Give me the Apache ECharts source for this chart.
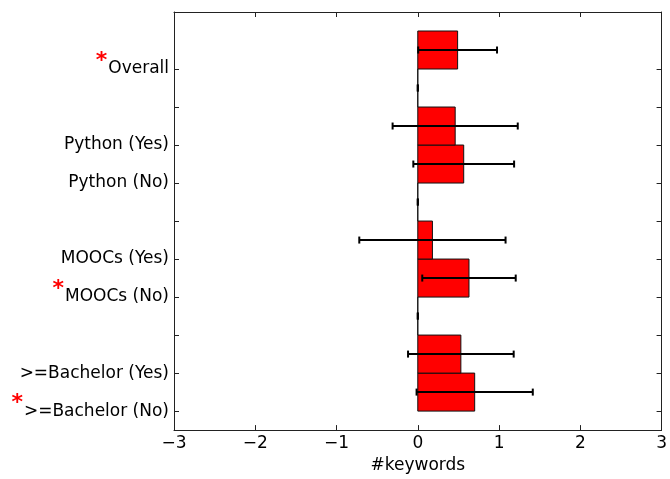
<!DOCTYPE html>
<html>
<head>
<meta charset="utf-8">
<script src="https://cdn.jsdelivr.net/npm/echarts@6/dist/echarts.min.js"></script>
<style>
  html, body { margin: 0; padding: 0; background: #fff; }
  #chart { width: 670px; height: 479px; }
</style>
</head>
<body>
<div id="chart"></div>
<script>
// Group labels, bottom (slot 0) to top (slot 9); empty slots are spacers
const labels = ['>=Bachelor (No)', '>=Bachelor (Yes)', '', 'MOOCs (No)', 'MOOCs (Yes)', '', 'Python (No)', 'Python (Yes)', '', 'Overall'];
// Mean number of keywords per group
const means = [0.70, 0.53, 0, 0.63, 0.18, 0, 0.565, 0.46, 0, 0.49];
// Error (half-width) per group
const errs = [0.715, 0.65, 0, 0.575, 0.90, 0, 0.62, 0.77, 0, 0.485];
// Groups marked as significant with a red asterisk
const significant = [true, false, false, true, false, false, false, false, false, true];
// Axis ticks
const xTicks = [-3, -2, -1, 0, 1, 2, 3];
const yTicks = labels.map((_, i) => i);

const FONT = 'DejaVu Sans';
const rows = means.map((m, i) => [m, errs[i], i]);

const chart = echarts.init(document.getElementById('chart'), null, { renderer: 'canvas' });

const frameLine = { show: true, onZero: false, lineStyle: { color: '#222', width: 1 } };
const tickStyle = { show: true, inside: true, length: 5, lineStyle: { color: '#222', width: 1 } };

chart.setOption({
  animation: false,
  backgroundColor: '#fff',
  grid: { left: 174, right: 1, top: 12, bottom: 45, containLabel: false },
  xAxis: [
    {
      type: 'value', min: xTicks[0], max: xTicks[xTicks.length - 1], interval: 1, position: 'bottom',
      axisLine: frameLine, axisTick: tickStyle, splitLine: { show: false },
      axisLabel: {
        fontFamily: FONT, fontSize: 17, color: '#000', margin: 5,
        formatter: v => (v < 0 ? '\u2212' + Math.abs(v) : String(v))
      },
      name: '#keywords', nameLocation: 'middle', nameGap: 26,
      nameTextStyle: { fontFamily: FONT, fontSize: 17, color: '#000' }
    },
    {
      type: 'value', min: xTicks[0], max: xTicks[xTicks.length - 1], interval: 1, position: 'top',
      axisLine: frameLine, axisTick: tickStyle, splitLine: { show: false },
      axisLabel: { show: false }
    }
  ],
  yAxis: [
    {
      type: 'value', min: -0.5, max: 10.5, position: 'left',
      axisLine: frameLine,
      axisTick: Object.assign({}, tickStyle, { customValues: yTicks }),
      splitLine: { show: false },
      axisLabel: {
        customValues: yTicks, margin: 5, color: '#000',
        fontFamily: FONT, fontSize: 17,
        formatter: v => {
          const i = Math.round(v);
          const name = labels[i];
          if (!name) return '';
          return (significant[i] ? '{star|*}' : '') + '{lbl|' + name + '}';
        },
        rich: {
          star: { color: '#ff0000', fontFamily: FONT, fontSize: 22, fontWeight: 'bold', padding: [0, 1, 16, 0] },
          lbl: { color: '#000', fontFamily: FONT, fontSize: 17 }
        }
      }
    },
    {
      type: 'value', min: -0.5, max: 10.5, position: 'right',
      axisLine: frameLine,
      axisTick: Object.assign({}, tickStyle, { customValues: yTicks }),
      splitLine: { show: false },
      axisLabel: { show: false }
    }
  ],
  series: [
    {
      // Bars: each spans one slot, from its tick upward
      type: 'custom',
      xAxisIndex: 0, yAxisIndex: 0,
      encode: { x: 0, y: 2 },
      data: rows,
      renderItem: (params, api) => {
        const m = api.value(0), p = api.value(2);
        const a = api.coord([0, p]);
        const b = api.coord([m, p + 1]);
        return {
          type: 'rect',
          shape: { x: Math.min(a[0], b[0]), y: b[1], width: Math.abs(b[0] - a[0]), height: a[1] - b[1] },
          style: { fill: '#ff0000', stroke: '#111', lineWidth: 1 }
        };
      },
      z: 2
    },
    {
      // Error bars with end caps, centred in each slot
      type: 'custom',
      xAxisIndex: 0, yAxisIndex: 0,
      encode: { x: 0, y: 2 },
      data: rows,
      renderItem: (params, api) => {
        const m = api.value(0), e = api.value(1), p = api.value(2);
        const l = api.coord([m - e, p + 0.5]);
        const r = api.coord([m + e, p + 0.5]);
        const cap = 3.5;
        const st = { stroke: '#000', lineWidth: 2 };
        return {
          type: 'group',
          children: [
            { type: 'line', shape: { x1: l[0], y1: l[1], x2: r[0], y2: r[1] }, style: st },
            { type: 'line', shape: { x1: l[0], y1: l[1] - cap, x2: l[0], y2: l[1] + cap }, style: st },
            { type: 'line', shape: { x1: r[0], y1: r[1] - cap, x2: r[0], y2: r[1] + cap }, style: st }
          ]
        };
      },
      z: 3
    }
  ]
});
</script>
</body>
</html>
